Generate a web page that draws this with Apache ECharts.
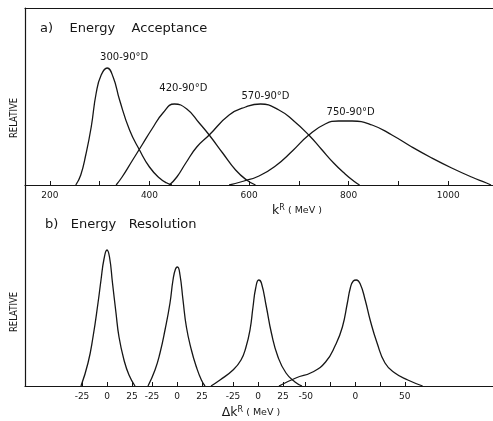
<!DOCTYPE html>
<html><head><meta charset="utf-8">
<script src="https://cdn.jsdelivr.net/npm/echarts@6/dist/echarts.min.js"></script>
<style>html,body{margin:0;padding:0;background:#fff}#c{width:493px;height:421px}</style>
</head><body><div id="c"></div>
<script>
// ---- Data ----
// a) Energy acceptance: [k^R (MeV), relative]
const acc300 = [[252,0],[262,10],[272,30],[283,58],[293,92],[303,110],[315,117],[327,108],[340,85],[360,55],[380,35],[400,18],[420,7],[435,2],[445,0]];
const acc420 = [[333,0],[345,8],[365,24],[385,40],[405,56],[427,72],[450,81],[475,76],[500,62],[520,50],[547,32],[573,15],[595,5],[613,0]];
const acc570 = [[440,0],[455,8],[473,22],[495,38],[520,50],[560,70],[593,78],[623,81],[660,75],[690,64],[720,50],[745,36],[770,22],[793,11],[810,4],[822,0]];
const acc750 = [[560,0],[590,4],[620,9],[653,19],[687,34],[720,50],[753,61],[780,64],[807,64],[847,60],[887,50],[927,38],[967,27],[1007,17],[1047,8],[1077,2],[1086,0]];
const accNames = ['300-90°D','420-90°D','570-90°D','750-90°D'];
const accTicks = [200,300,400,500,600,700,800,900,1000];
const accLabels = [200,400,600,800,1000];

// b) Energy resolution: [Δk^R (MeV), relative]
const res1 = [[-26,0],[-19,23],[-14,49],[-9,83],[-6,106],[-3,127],[0,136],[2.5,129],[5.5,103],[9,73],[12,49],[17,26],[22,11],[28,0]];
const res2 = [[-29,0],[-22,16],[-17,33],[-12,56],[-7,83],[-4,106],[-1.5,117],[0.5,119],[3,111],[6,86],[9.4,59],[14.4,36],[19.4,19],[24.4,6],[28,0]];
const res3 = [[-47,0],[-38,6],[-25,16],[-17,26],[-12,39],[-8,56],[-5,79],[-2.3,98],[0.7,106],[3.4,103],[8.4,79],[13.4,53],[20,29],[28,13],[37,4],[44,0]];
const res4 = [[-77,0],[-60,8],[-43,14],[-30,24],[-20,41],[-13,59],[-8,83],[-5,98],[-2,105],[1,106],[5,102],[10,86],[15,66],[22,43],[30,23],[40,13],[53,6],[68,0]];
const resTicksSmall = [-25,0,25];
const resTicksWide = [-50,-25,0,25,50];
const resLabelsWide = [-50,0,50];

// ---- Styling ----
const INK = '#161616';
const FONT = 'DejaVu Sans';
const lineStyle = {color: INK, width: 1.3};

function xAx(grid, min, max, ticks, labels, show) {
  return {
    type: 'value', gridIndex: grid, min: min, max: max,
    axisLine: {show: show !== false, onZero: false, lineStyle: {color: INK, width: 1.2}},
    axisTick: {show: true, inside: true, length: 4, customValues: ticks, lineStyle: {color: INK, width: 1}},
    axisLabel: {show: true, customValues: labels, margin: 6, color: INK, fontFamily: FONT, fontSize: 9,
                formatter: v => String(v)},
    splitLine: {show: false}
  };
}
function yAx(grid, max, showLine) {
  return {
    type: 'value', gridIndex: grid, min: 0, max: max,
    axisLine: {show: showLine, onZero: false, lineStyle: {color: INK, width: 1.2}},
    axisTick: {show: false}, axisLabel: {show: false}, splitLine: {show: false}
  };
}
function line(name, data, xi, yi, lbl) {
  const s = {
    type: 'line', name: name, data: data, xAxisIndex: xi, yAxisIndex: yi,
    showSymbol: false, smooth: 0.5, lineStyle: lineStyle, silent: true, clip: true
  };
  if (lbl) {
    s.markPoint = {
      symbol: 'circle', symbolSize: 2, itemStyle: {color: 'rgba(0,0,0,0)'}, silent: true,
      data: [{type: 'max', valueDim: 'y'}],
      label: {show: true, position: 'inside', formatter: name, offset: lbl,
              color: INK, fontFamily: FONT, fontSize: 10}
    };
  }
  return s;
}

const chart = echarts.init(document.getElementById('c'), null, {renderer: 'canvas'});
chart.setOption({
  animation: false,
  backgroundColor: '#ffffff',
  grid: [
    {left: 25, top: 8, width: 470, height: 177},
    {left: 25, top: 185, width: 117, height: 201},
    {left: 142, top: 185, width: 69, height: 201},
    {left: 211, top: 185, width: 92, height: 201},
    {left: 278, top: 185, width: 217, height: 201}
  ],
  xAxis: [
    xAx(0, 150, 1090, accTicks, accLabels),
    xAx(1, -82, 35, resTicksSmall, resTicksSmall),
    xAx(2, -35, 34, resTicksSmall, resTicksSmall),
    xAx(3, -47, 45, resTicksSmall, resTicksSmall),
    xAx(4, -78, 139, resTicksWide, resLabelsWide),
    {type: 'value', gridIndex: 0, position: 'top', min: 150, max: 1090,
     axisLine: {show: true, onZero: false, lineStyle: {color: INK, width: 1.2}},
     axisTick: {show: false}, axisLabel: {show: false}, splitLine: {show: false}}
  ],
  yAxis: [
    yAx(0, 177, true), yAx(1, 201, true), yAx(2, 201, false), yAx(3, 201, false), yAx(4, 201, false)
  ],
  series: [
    line(accNames[0], acc300, 0, 0, [17, -11]),
    line(accNames[1], acc420, 0, 0, [9, -16]),
    line(accNames[2], acc570, 0, 0, [5, -8]),
    line(accNames[3], acc750, 0, 0, [12, -9]),
    line('r1', res1, 1, 1),
    line('r2', res2, 2, 2),
    line('r3', res3, 3, 3),
    line('r4', res4, 4, 4)
  ],
  graphic: [
    {type: 'text', x: 40, y: 29, style: {text: 'a)    Energy    Acceptance', fill: INK, font: '13px "DejaVu Sans"', textVerticalAlign: 'middle'}},
    {type: 'text', x: 45, y: 225, style: {text: 'b)   Energy   Resolution', fill: INK, font: '13px "DejaVu Sans"', textVerticalAlign: 'middle'}},
    {type: 'text', x: 14, y: 118, rotation: Math.PI / 2, scaleY: 1.2, style: {text: 'RELATIVE', fill: INK, font: '8.5px "DejaVu Sans"', textAlign: 'center', textVerticalAlign: 'middle'}},
    {type: 'text', x: 14, y: 312, rotation: Math.PI / 2, scaleY: 1.2, style: {text: 'RELATIVE', fill: INK, font: '8.5px "DejaVu Sans"', textAlign: 'center', textVerticalAlign: 'middle'}},
    {type: 'text', x: 297, y: 211, style: {
      text: '{k|k}{s|R}{u| ( MeV )}', textAlign: 'center', textVerticalAlign: 'middle',
      rich: {k: {fontSize: 12.5, fontFamily: FONT, fill: INK},
             s: {fontSize: 8, fontFamily: FONT, fill: INK, verticalAlign: 'top', padding: [0, 0, 6, 0]},
             u: {fontSize: 9.5, fontFamily: FONT, fill: INK}}}},
    {type: 'text', x: 251, y: 413, style: {
      text: '{k|Δk}{s|R}{u| ( MeV )}', textAlign: 'center', textVerticalAlign: 'middle',
      rich: {k: {fontSize: 12.5, fontFamily: FONT, fill: INK},
             s: {fontSize: 8, fontFamily: FONT, fill: INK, verticalAlign: 'top', padding: [0, 0, 6, 0]},
             u: {fontSize: 9.5, fontFamily: FONT, fill: INK}}}}
  ]
});
</script></body></html>
